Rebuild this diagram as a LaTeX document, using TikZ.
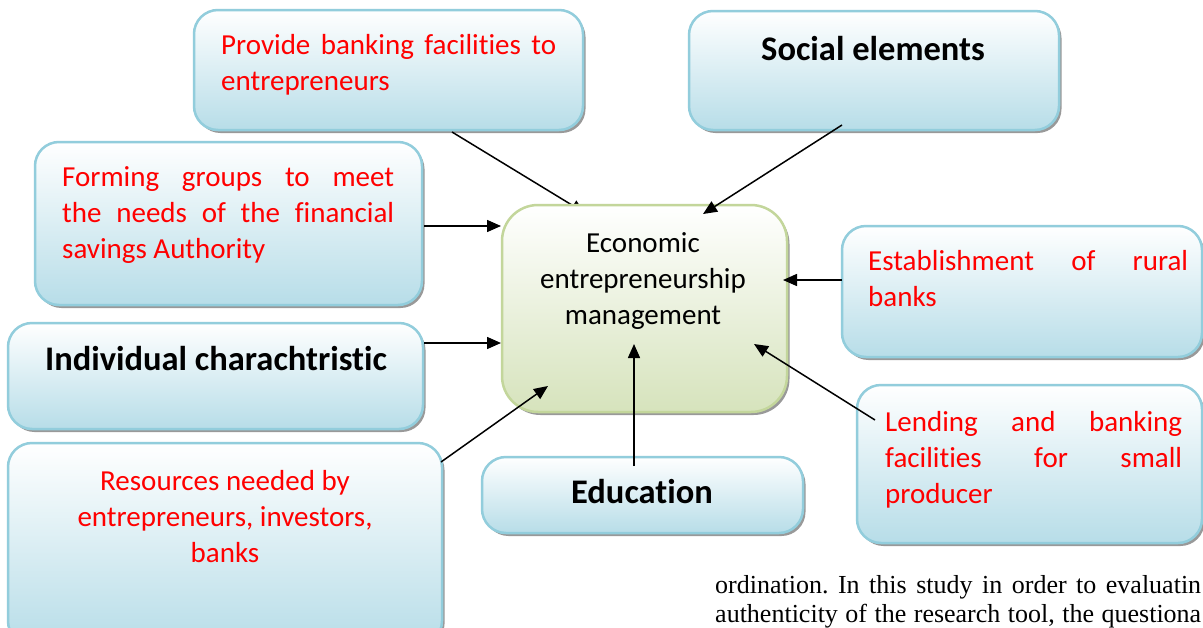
\documentclass[tikz,border=0pt]{standalone}
\usepackage{fontspec}
\setmainfont{Carlito}[Ligatures=NoCommon]
\newfontfamily\timesfont{Liberation Serif}[Ligatures=NoCommon]
\usetikzlibrary{arrows.meta,shadows}
\definecolor{bbord}{RGB}{146,205,220}
\definecolor{bfill}{RGB}{183,221,232}
\definecolor{gbord}{RGB}{195,214,155}
\definecolor{gfill}{RGB}{214,227,188}
\definecolor{tred}{RGB}{255,0,0}
\frenchspacing
\begin{document}
\begin{tikzpicture}[x=1pt,y=-1pt,
  bluebox/.style={draw=bbord, line width=2.5pt, rounded corners=24pt,
    top color=white, bottom color=bfill, inner sep=0pt,
    drop shadow={shadow xshift=2.5pt, shadow yshift=-3pt, fill=black!40, opacity=1}},
  greenbox/.style={draw=gbord, line width=2.5pt, rounded corners=36pt,
    top color=white, bottom color=gfill, inner sep=0pt,
    drop shadow={shadow xshift=2.5pt, shadow yshift=-3pt, fill=black!40, opacity=1}},
  redtext/.style={text=tred, inner sep=0pt, font=\fontsize{29}{36}\selectfont},
  blacktext/.style={text=black, inner sep=0pt, font=\fontsize{29}{36}\selectfont},
  boldtext/.style={text=black, inner sep=0pt, font=\fontsize{34.5}{42}\selectfont\bfseries},
  pagetext/.style={anchor=base west, inner sep=0pt, font=\timesfont\fontsize{26}{29}\selectfont\frenchspacing},
  arr/.style={line width=1.5pt, -{Triangle[length=14pt,width=12pt]}}
]
\useasboundingbox (0,0) rectangle (1203,627);
\clip (0,0) rectangle (1203,627);
\fill[white] (0,0) rectangle (1203,627);

% boxes
\node[bluebox, minimum width=389pt, minimum height=120pt] (b1) at (388.5,70) {};
\node[bluebox, minimum width=370pt, minimum height=119pt] (b2) at (874,70.5) {};
\node[bluebox, minimum width=387pt, minimum height=163pt] (b3) at (228.5,223.5) {};
\node[bluebox, minimum width=360pt, minimum height=131pt] (b5) at (1022,291.5) {};
\node[bluebox, minimum width=415pt, minimum height=106pt] (b6) at (215.5,376) {};
\node[bluebox, minimum width=434pt, minimum height=202pt] (b9) at (225,544) {};
\node[bluebox, minimum width=345pt, minimum height=158pt] (b7) at (1029.5,464) {};
\node[bluebox, minimum width=321pt, minimum height=76pt] (b8) at (642.5,495) {};

% arrow partly hidden behind the centre box
\coordinate (s1) at (452,132);
\coordinate (e1) at (585,213);
\draw[arr] (s1) -- (e1);

\node[greenbox, minimum width=285pt, minimum height=207pt] (c) at (644.5,308.5) {};

% texts
\node[redtext, anchor=north west, text width=335pt, align=justify] (t1) at (221,28.8)
  {\strut Provide banking facilities to\linebreak entrepreneurs};
\node[boldtext, anchor=base] (t2) at (873,60) {Social elements};
\node[redtext, anchor=north west, text width=332pt, align=justify] (t3) at (62,160.8)
  {\strut Forming groups to meet\linebreak the needs of the financial\linebreak savings Authority};
\node[blacktext, anchor=north, align=center] (tc) at (643,226.8)
  {\strut Economic\\ entrepreneurship\\ management};
\node[redtext, anchor=north west, text width=320pt, align=justify] (t5) at (868,244.8)
  {\strut Establishment of rural\linebreak banks};
\node[boldtext, anchor=base] (t6) at (216,370) {Individual charachtristic};
\node[redtext, anchor=north west, text width=297pt, align=justify] (t7) at (885,405.8)
  {\strut Lending and banking\linebreak facilities for small\linebreak producer};
\node[boldtext, anchor=base] (t8) at (642,503) {Education};
\node[redtext, anchor=north, align=center] (t9) at (225,464.8)
  {\strut Resources needed by\\ entrepreneurs, investors,\\ banks};

% connectors
\coordinate (s2) at (842,125);
\coordinate (e2) at (703,214);
\draw[arr] (s2) -- (e2);
\coordinate (s3) at (424,226);
\coordinate (e3) at (501,226);
\draw[arr] (s3) -- (e3);
\coordinate (s5) at (842,280);
\coordinate (e5) at (783,280);
\draw[arr] (s5) -- (e5);
\coordinate (s6) at (424,343);
\coordinate (e6) at (501,343);
\draw[arr] (s6) -- (e6);
\coordinate (s7) at (875,420);
\coordinate (e7) at (754,344);
\draw[arr] (s7) -- (e7);
\coordinate (s8) at (634,466);
\coordinate (e8) at (634,344);
\draw[arr] (s8) -- (e8);
\coordinate (s9) at (441,462);
\coordinate (e9) at (548,386);
\draw[arr] (s9) -- (e9);

% body text of the page below the figure
\node[pagetext] (p1) at (715,593)
  {\makebox[486pt][s]{ordination. In this study in order to evaluatin}};
\node[pagetext] (p2) at (715,622)
  {\makebox[486pt][s]{authenticity of the research tool, the questiona}};
\end{tikzpicture}
\end{document}
